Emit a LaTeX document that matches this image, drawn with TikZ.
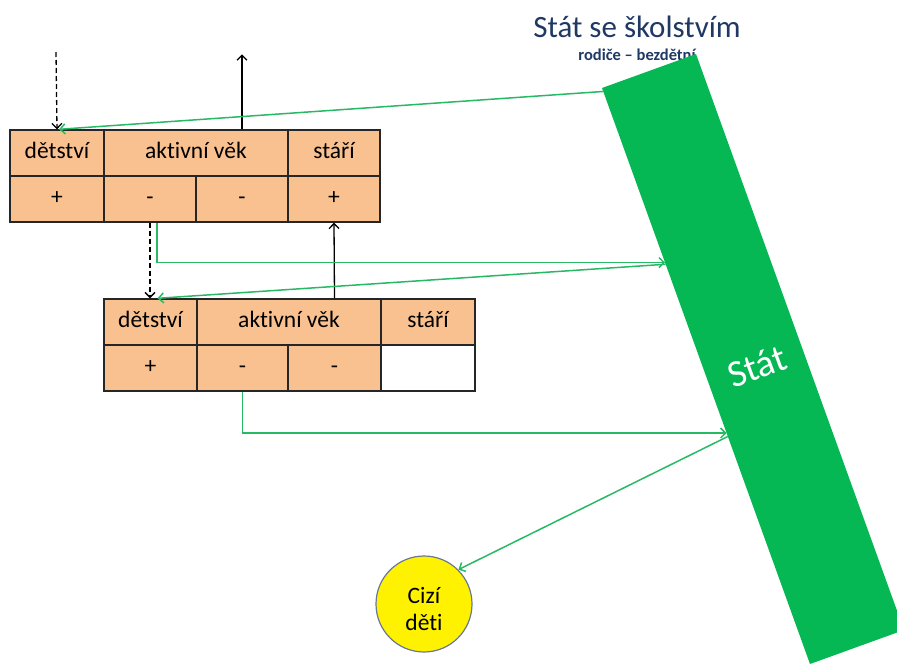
\documentclass[tikz,border=0pt]{standalone}
\usepackage{fontspec}
\setmainfont{Carlito}[Ligatures=NoCommon]
\usetikzlibrary{arrows.meta,calc}
\definecolor{peach}{RGB}{249,192,144}
\definecolor{barGreen}{RGB}{6,184,84}
\definecolor{lineGreen}{RGB}{40,185,100}
\definecolor{titleBlue}{RGB}{31,56,100}
\definecolor{circEdge}{RGB}{105,120,150}
\begin{document}
\begin{tikzpicture}[x=1pt,y=-1pt,
  cellbox/.style={draw=black!85,line width=1.4pt,fill=peach,inner sep=0pt,minimum height=46pt,
    text height=16pt,text depth=5pt,font=\fontsize{23.5}{26}\selectfont},
  blackarrow/.style={draw=black,line width=1.3pt,-{Straight Barb[length=5pt,width=10pt]}},
  dashedarrow/.style={blackarrow,dash pattern=on 5pt off 3pt},
  greenarrow/.style={draw=lineGreen,line width=1.5pt,-{Straight Barb[length=5pt,width=10pt]}},
]
\useasboundingbox (0,0) rectangle (897,665);
\clip (0,0) rectangle (897,665);

% title
\node[text=titleBlue,font=\fontsize{31}{34}\selectfont] (title) at (637,27) {Stát se školstvím};
\node[text=titleBlue,font=\bfseries\fontsize{16.5}{18}\selectfont] (sub) at (637,55) {rodiče – bezdětní};

% bar
\coordinate (TL) at (602,88);
\coordinate (TR) at (696,54);
\coordinate (BR) at (904,630);
\coordinate (BL) at (810,664);
\fill[barGreen] (TL) -- (TR) -- (BR) -- (BL) -- cycle;
\node[text=white,rotate=20,font=\fontsize{38}{40}\selectfont] (stat) at (757,366) {Stát};

% table 1
\node[cellbox,minimum width=94pt] (t1d) at (57,153) {dětství};
\node[cellbox,minimum width=184pt] (t1a) at (196,153) {aktivní věk};
\node[cellbox,minimum width=92pt] (t1s) at (334,153) {stáří};
\node[cellbox,minimum width=94pt] (t1p1) at (57,199) {+};
\node[cellbox,minimum width=92pt] (t1m1) at (150,199) {-};
\node[cellbox,minimum width=92pt] (t1m2) at (242,199) {-};
\node[cellbox,minimum width=92pt] (t1p2) at (334,199) {+};

% table 2
\node[cellbox,minimum width=93pt] (t2d) at (150.5,322) {dětství};
\node[cellbox,minimum width=184pt] (t2a) at (289,322) {aktivní věk};
\node[cellbox,minimum width=94pt] (t2s) at (428,322) {stáří};
\node[cellbox,minimum width=93pt] (t2p) at (150.5,368) {+};
\node[cellbox,minimum width=91pt] (t2m1) at (242.5,368) {-};
\node[cellbox,minimum width=93pt] (t2m2) at (334.5,368) {-};
\node[cellbox,minimum width=94pt,fill=white] (t2e) at (428,368) {};

% circle
\node[circle,draw=circEdge,line width=1.2pt,fill=yellow,minimum size=96pt,inner sep=0pt] (cd) at (424,604) {};
\node[align=center,font=\fontsize{23.5}{27}\selectfont,inner sep=0pt] (cdt) at (424,609) {Cizí\\děti};

% coordinates
\coordinate (topIn) at (56,52);
\coordinate (topOut) at ($(t1m2.center |- t1a.north)+(0,-75)$);
\coordinate (b1) at ($(TL)!0.006!(BL)$);
\coordinate (b2) at ($(TL)!0.303!(BL)$);
\coordinate (b3) at ($(TL)!0.306!(BL)$);
\coordinate (b4) at ($(TL)!0.599!(BL)$);
\coordinate (b5) at ($(TL)!0.605!(BL)$);

% black arrows
\draw[dashedarrow] (topIn) -- (t1d.north);
\draw[blackarrow] (t1m2.center |- t1a.north) -- (topOut);
\draw[dashedarrow] (t1m1.south) -- (t1m1.south |- t2d.north);
\draw[blackarrow] (t2m2.center |- t2a.north) -- (t1p2.south);

% green arrows
\draw[greenarrow] (b1) -- ([xshift=2pt]t1d.north);
\draw[greenarrow] ([xshift=7pt]t1m1.south) |- (b2);
\draw[greenarrow] (b3) -- ([xshift=7pt]t2d.north);
\draw[greenarrow] (t2m1.south) |- (b4);
\draw[greenarrow] (b5) -- (cd.45);
\end{tikzpicture}
\end{document}
